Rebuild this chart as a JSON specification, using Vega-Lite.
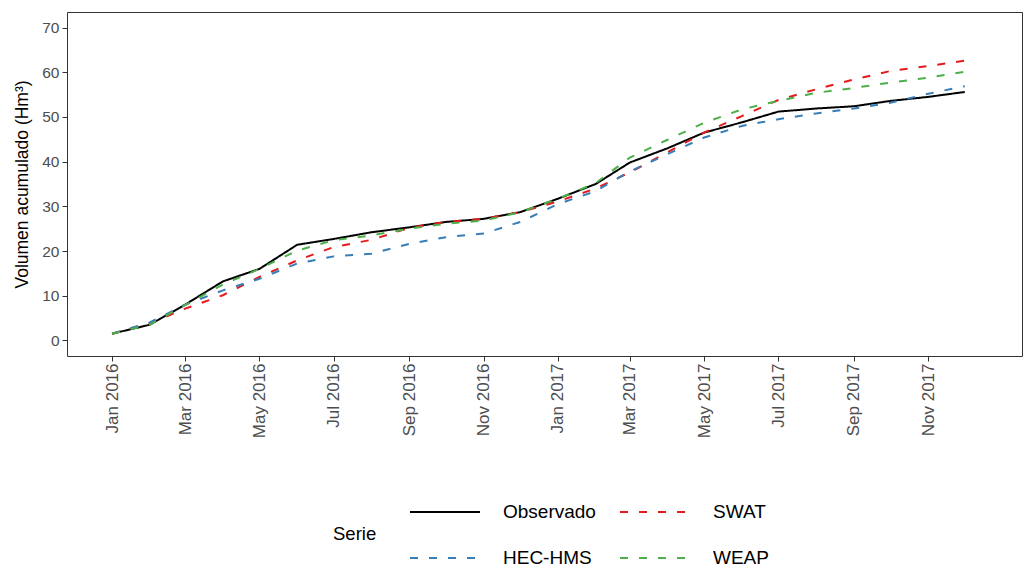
{
  "$schema": "https://vega.github.io/schema/vega-lite/v6.json",
  "width": 955,
  "height": 344,
  "autosize": {"type": "none"},
  "padding": {"left": 67, "top": 12, "right": 13, "bottom": 208},
  "background": "white",
  "config": {
    "font": "Liberation Sans",
    "view": {"stroke": "#333333", "strokeWidth": 1},
    "axis": {"grid": false, "domain": false, "tickColor": "#333333", "tickSize": 5, "labelColor": "#4D4D4D", "labelFont": "Liberation Sans", "titleFont": "Liberation Sans", "titleFontWeight": "normal", "titleColor": "#000000"}
  },
  "datasets": {
    "series": [
      {"date": "2016-01-01T00:00", "Observado": 1.5, "HEC-HMS": 1.5, "SWAT": 1.5, "WEAP": 1.5},
      {"date": "2016-02-01T00:00", "Observado": 3.5, "HEC-HMS": 4.0, "SWAT": 3.8, "WEAP": 3.5},
      {"date": "2016-03-01T00:00", "Observado": 8.0, "HEC-HMS": 8.0, "SWAT": 7.1, "WEAP": 7.9},
      {"date": "2016-04-01T00:00", "Observado": 13.2, "HEC-HMS": 11.2, "SWAT": 10.1, "WEAP": 12.5},
      {"date": "2016-05-01T00:00", "Observado": 16.0, "HEC-HMS": 13.8, "SWAT": 14.2, "WEAP": 16.0},
      {"date": "2016-06-01T00:00", "Observado": 21.4, "HEC-HMS": 17.2, "SWAT": 17.9, "WEAP": 20.1},
      {"date": "2016-07-01T00:00", "Observado": 22.7, "HEC-HMS": 18.8, "SWAT": 20.9, "WEAP": 22.4},
      {"date": "2016-08-01T00:00", "Observado": 24.2, "HEC-HMS": 19.4, "SWAT": 22.5, "WEAP": 23.5},
      {"date": "2016-09-01T00:00", "Observado": 25.3, "HEC-HMS": 21.6, "SWAT": 25.2, "WEAP": 25.0},
      {"date": "2016-10-01T00:00", "Observado": 26.5, "HEC-HMS": 23.1, "SWAT": 26.5, "WEAP": 26.1},
      {"date": "2016-11-01T00:00", "Observado": 27.2, "HEC-HMS": 23.9, "SWAT": 27.2, "WEAP": 26.8},
      {"date": "2016-12-01T00:00", "Observado": 28.7, "HEC-HMS": 26.5, "SWAT": 28.7, "WEAP": 28.7},
      {"date": "2017-01-01T00:00", "Observado": 31.7, "HEC-HMS": 30.5, "SWAT": 31.1, "WEAP": 31.7},
      {"date": "2017-02-01T00:00", "Observado": 35.0, "HEC-HMS": 33.4, "SWAT": 34.0, "WEAP": 35.2},
      {"date": "2017-03-01T00:00", "Observado": 39.8, "HEC-HMS": 37.8, "SWAT": 37.6, "WEAP": 40.9},
      {"date": "2017-04-01T00:00", "Observado": 43.0, "HEC-HMS": 41.7, "SWAT": 42.1, "WEAP": 44.9},
      {"date": "2017-05-01T00:00", "Observado": 46.5, "HEC-HMS": 45.4, "SWAT": 46.5, "WEAP": 48.7},
      {"date": "2017-06-01T00:00", "Observado": 48.8, "HEC-HMS": 48.0, "SWAT": 50.2, "WEAP": 51.7},
      {"date": "2017-07-01T00:00", "Observado": 51.2, "HEC-HMS": 49.5, "SWAT": 53.8, "WEAP": 53.6},
      {"date": "2017-08-01T00:00", "Observado": 51.9, "HEC-HMS": 50.8, "SWAT": 56.2, "WEAP": 55.4},
      {"date": "2017-09-01T00:00", "Observado": 52.4, "HEC-HMS": 51.9, "SWAT": 58.4, "WEAP": 56.5},
      {"date": "2017-10-01T00:00", "Observado": 53.6, "HEC-HMS": 53.2, "SWAT": 60.3, "WEAP": 57.7},
      {"date": "2017-11-01T00:00", "Observado": 54.5, "HEC-HMS": 55.2, "SWAT": 61.4, "WEAP": 58.8},
      {"date": "2017-12-01T00:00", "Observado": 55.6, "HEC-HMS": 56.9, "SWAT": 62.6, "WEAP": 60.1}
    ]
  },
  "data": {"name": "series"},
  "transform": [
    {"fold": ["Observado", "SWAT", "HEC-HMS", "WEAP"], "as": ["Serie", "valor"]}
  ],
  "mark": {"type": "line", "strokeWidth": 2},
  "encoding": {
    "x": {
      "field": "date",
      "type": "temporal",
      "scale": {"domain": [{"year": 2015, "month": 11, "date": 25}, {"year": 2018, "month": 1, "date": 17}], "nice": false},
      "axis": {
        "title": null,
        "format": "%b %Y",
        "values": [
          {"year": 2016, "month": 1, "date": 1}, {"year": 2016, "month": 3, "date": 1}, {"year": 2016, "month": 5, "date": 1},
          {"year": 2016, "month": 7, "date": 1}, {"year": 2016, "month": 9, "date": 1}, {"year": 2016, "month": 11, "date": 1},
          {"year": 2017, "month": 1, "date": 1}, {"year": 2017, "month": 3, "date": 1}, {"year": 2017, "month": 5, "date": 1},
          {"year": 2017, "month": 7, "date": 1}, {"year": 2017, "month": 9, "date": 1}, {"year": 2017, "month": 11, "date": 1}
        ],
        "labelAngle": -90, "labelAlign": "right", "labelBaseline": "middle", "labelPadding": 2, "labelFontSize": 17, "labelOverlap": false
      }
    },
    "y": {
      "field": "valor",
      "type": "quantitative",
      "scale": {"domain": [-3.5, 73.5], "nice": false, "zero": false},
      "axis": {"title": "Volumen acumulado (Hm³)", "titleFontSize": 17.5, "values": [0, 10, 20, 30, 40, 50, 60, 70], "labelFontSize": 15.5, "labelPadding": 3, "titlePadding": 10}
    },
    "color": {
      "field": "Serie",
      "type": "nominal",
      "scale": {"domain": ["Observado", "SWAT", "HEC-HMS", "WEAP"], "range": ["#000000", "#E41A1C", "#377EB8", "#4DAF4A"]},
      "legend": {
        "orient": "none",
        "legendX": 266,
        "legendY": 464,
        "direction": "horizontal",
        "columns": 2,
        "title": "Serie",
        "titleOrient": "left",
        "titleAnchor": "middle",
        "titleBaseline": "line-top",
        "titleLineHeight": 26,
        "titleFontSize": 18.5,
        "titleFontWeight": "normal",
        "titleColor": "#000000",
        "titlePadding": 32,
        "labelFontSize": 19,
        "labelColor": "#000000",
        "labelOffset": 22,
        "symbolType": "stroke",
        "symbolSize": 4900,
        "symbolStrokeWidth": 2,
        "columnPadding": 20,
        "rowPadding": 0
      }
    },
    "strokeDash": {
      "field": "Serie",
      "type": "nominal",
      "scale": {"domain": ["Observado", "SWAT", "HEC-HMS", "WEAP"], "range": [[1, 0], [8, 11], [8, 11], [8, 11]]},
      "legend": null
    }
  }
}
